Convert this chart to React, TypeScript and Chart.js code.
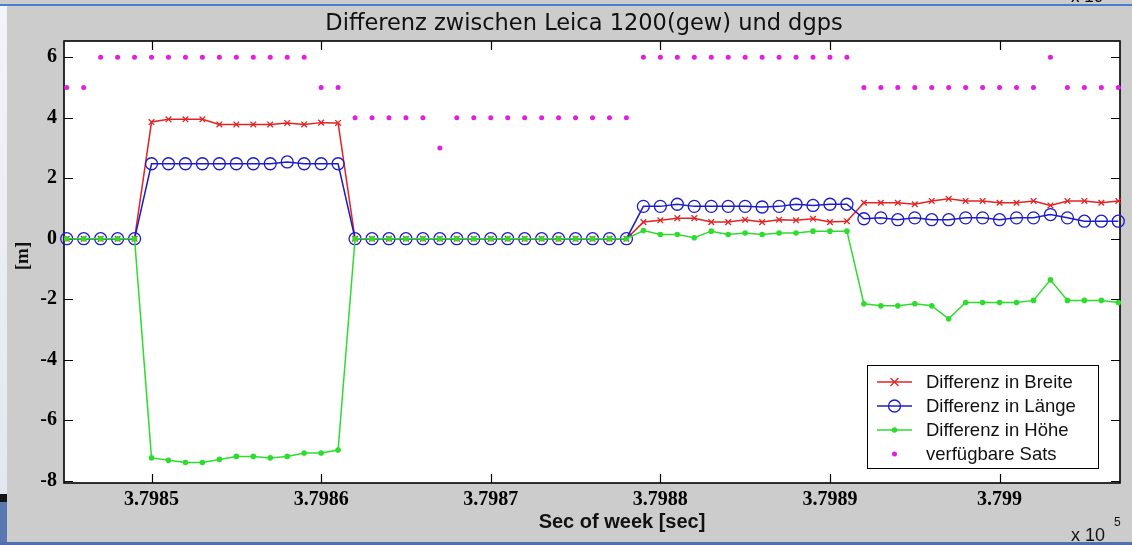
import React, { useEffect, useRef } from 'react';
import { Chart, registerables } from 'chart.js';

Chart.register(...registerables);

const seconds = [
  379845, 379846, 379847, 379848, 379849, 379850, 379851, 379852, 379853, 379854,
  379855, 379856, 379857, 379858, 379859, 379860, 379861, 379862, 379863, 379864,
  379865, 379866, 379867, 379868, 379869, 379870, 379871, 379872, 379873, 379874,
  379875, 379876, 379877, 379878, 379879, 379880, 379881, 379882, 379883, 379884,
  379885, 379886, 379887, 379888, 379889, 379890, 379891, 379892, 379893, 379894,
  379895, 379896, 379897, 379898, 379899, 379900, 379901, 379902, 379903, 379904,
  379905, 379906, 379907,
];

const diffBreite = [
  0, 0, 0, 0, 0,
  3.86, 3.95, 3.95, 3.95, 3.78, 3.78, 3.78, 3.78, 3.83, 3.78, 3.84, 3.83,
  0, 0, 0, 0, 0, 0, 0, 0, 0, 0, 0, 0, 0, 0, 0, 0, 0,
  0.55, 0.61, 0.68, 0.68, 0.55, 0.55, 0.63, 0.55, 0.63, 0.61, 0.66, 0.55, 0.58,
  1.19, 1.19, 1.19, 1.14, 1.25, 1.32, 1.25, 1.25, 1.19, 1.19, 1.25, 1.1, 1.25, 1.25, 1.19, 1.25,
];

const diffLaenge = [
  0, 0, 0, 0, 0,
  2.48, 2.48, 2.48, 2.48, 2.48, 2.48, 2.48, 2.48, 2.54, 2.48, 2.48, 2.48,
  0, 0, 0, 0, 0, 0, 0, 0, 0, 0, 0, 0, 0, 0, 0, 0, 0,
  1.07, 1.07, 1.14, 1.07, 1.07, 1.07, 1.07, 1.05, 1.07, 1.14, 1.1, 1.14, 1.14,
  0.66, 0.69, 0.63, 0.69, 0.63, 0.63, 0.69, 0.69, 0.63, 0.69, 0.69, 0.8, 0.69, 0.58, 0.58, 0.58,
];

const diffHoehe = [
  0, 0, 0, 0, 0,
  -7.25, -7.33, -7.4, -7.4, -7.3, -7.2, -7.2, -7.25, -7.2, -7.09, -7.09, -6.99,
  0, 0, 0, 0, 0, 0, 0, 0, 0, 0, 0, 0, 0, 0, 0, 0, 0,
  0.27, 0.14, 0.14, 0.03, 0.25, 0.14, 0.19, 0.14, 0.19, 0.19, 0.25, 0.25, 0.25,
  -2.15, -2.22, -2.22, -2.15, -2.22, -2.65, -2.11, -2.11, -2.11, -2.11, -2.04, -1.36, -2.04, -2.04, -2.04, -2.11,
];

const verfuegbareSats = [
  5, 5,
  6, 6, 6, 6, 6, 6, 6, 6, 6, 6, 6, 6, 6,
  5, 5,
  4, 4, 4, 4, 4,
  3,
  4, 4, 4, 4, 4, 4, 4, 4, 4, 4, 4,
  6, 6, 6, 6, 6, 6, 6, 6, 6, 6, 6, 6, 6,
  5, 5, 5, 5, 5, 5, 5, 5, 5, 5, 5,
  6,
  5, 5, 5, 5,
];

const xTickValues = [379850, 379860, 379870, 379880, 379890, 379900];
const xTickLabels = ['3.7985', '3.7986', '3.7987', '3.7988', '3.7989', '3.799'];
const yTickValues = [-8, -6, -4, -2, 0, 2, 4, 6];
const yTickLabels = ['-8', '-6', '-4', '-2', '0', '2', '4', '6'];

const seriesLabels = ['Differenz in Breite', 'Differenz in Länge', 'Differenz in Höhe', 'verfügbare Sats'];
const titleText = 'Differenz zwischen Leica 1200(gew) und dgps';
const xAxisTitle = 'Sec of week [sec]';
const yAxisTitle = '[m]';
const exponentBase = 'x 10';
const exponentPower = '5';

const RED = '#e02424';
const BLUE = '#1c1cc8';
const GREEN = '#2edc2e';
const MAGENTA = '#e01fe0';

function drawMarker(ctx: CanvasRenderingContext2D, kind: string, x: number, y: number, color: string) {
  ctx.save();
  ctx.strokeStyle = color;
  ctx.fillStyle = color;
  ctx.lineWidth = 1.3;
  if (kind === 'x') {
    const r = 4;
    ctx.beginPath();
    ctx.moveTo(x - r, y - r); ctx.lineTo(x + r, y + r);
    ctx.moveTo(x - r, y + r); ctx.lineTo(x + r, y - r);
    ctx.stroke();
  } else if (kind === 'o') {
    ctx.beginPath();
    ctx.arc(x, y, 6, 0, Math.PI * 2);
    ctx.stroke();
  } else if (kind === 'dot') {
    ctx.beginPath();
    ctx.arc(x, y, 2.8, 0, Math.PI * 2);
    ctx.fill();
  } else {
    ctx.beginPath();
    ctx.arc(x, y, 2.5, 0, Math.PI * 2);
    ctx.fill();
  }
  ctx.restore();
}

const legendMarkers = ['x', 'o', 'dot', 'sat'];

const matlabPlugin = {
  id: 'matlabFrame',
  beforeDraw(chart: any) {
    const ctx: CanvasRenderingContext2D = chart.ctx;
    const W = chart.width;
    const H = chart.height;
    ctx.save();
    ctx.fillStyle = '#cccccc';
    ctx.fillRect(0, 0, W, H);
    // window remnants
    ctx.fillStyle = '#000';
    ctx.font = '17px "Liberation Sans", Arial, sans-serif';
    ctx.textBaseline = 'alphabetic';
    ctx.textAlign = 'left';
    ctx.fillText(exponentBase, 1071, 2);
    ctx.fillStyle = '#4a7cd0';
    ctx.fillRect(0, 4, W, 2);
    const g = ctx.createLinearGradient(0, 6, 0, 494);
    g.addColorStop(0, '#f1f4f9');
    g.addColorStop(1, '#e3e8f0');
    ctx.fillStyle = g;
    ctx.fillRect(0, 6, 7, 488);
    ctx.fillStyle = '#141414';
    ctx.fillRect(0, 494, 7, 8);
    ctx.fillStyle = '#5a78b0';
    ctx.fillRect(0, 502, 7, H - 502);
    ctx.fillStyle = '#5170aa';
    ctx.fillRect(0, 542, W, 3);
    const a = chart.chartArea;
    ctx.fillStyle = '#ffffff';
    ctx.fillRect(a.left, a.top, a.right - a.left, a.bottom - a.top);
    ctx.restore();
  },
  beforeDatasetsDraw(chart: any) {
    const ctx: CanvasRenderingContext2D = chart.ctx;
    const a = chart.chartArea;
    const xs = chart.scales.x;
    const ys = chart.scales.y;
    ctx.save();
    ctx.strokeStyle = '#000';
    ctx.lineWidth = 1.2;
    const tl = 9;
    ctx.beginPath();
    xTickValues.forEach((v) => {
      const px = Math.round(xs.getPixelForValue(v)) + 0.5;
      ctx.moveTo(px, a.bottom); ctx.lineTo(px, a.bottom - tl);
      ctx.moveTo(px, a.top); ctx.lineTo(px, a.top + tl);
    });
    yTickValues.forEach((v) => {
      const py = Math.round(ys.getPixelForValue(v)) + 0.5;
      ctx.moveTo(a.left, py); ctx.lineTo(a.left + tl, py);
      ctx.moveTo(a.right, py); ctx.lineTo(a.right - tl, py);
    });
    ctx.stroke();
    ctx.lineWidth = 1.6;
    ctx.strokeRect(a.left, a.top, a.right - a.left, a.bottom - a.top);
    ctx.restore();
  },
  afterDraw(chart: any) {
    const ctx: CanvasRenderingContext2D = chart.ctx;
    const a = chart.chartArea;
    ctx.save();
    // title
    ctx.fillStyle = '#111';
    ctx.font = '22.5px "DejaVu Sans", sans-serif';
    ctx.textAlign = 'center';
    ctx.textBaseline = 'alphabetic';
    ctx.fillText(titleText, 584, 29.5);
    // x axis title
    ctx.font = 'bold 20px "Liberation Sans", Arial, sans-serif';
    ctx.textBaseline = 'middle';
    ctx.fillText(xAxisTitle, 622, 522);
    // y axis title
    ctx.save();
    ctx.translate(23, 256);
    ctx.rotate(-Math.PI / 2);
    ctx.font = 'bold 19px "Liberation Serif", serif';
    ctx.fillText(yAxisTitle, 0, 0);
    ctx.restore();
    // exponent
    ctx.textAlign = 'left';
    ctx.font = '18px "Liberation Sans", Arial, sans-serif';
    ctx.fillText(exponentBase, 1071, 536);
    ctx.font = '12px "Liberation Sans", Arial, sans-serif';
    ctx.fillText(exponentPower, 1114, 523);

    // legend
    const lx = 867, ly = 365, lw = 231, lh = 103;
    ctx.fillStyle = '#fff';
    ctx.fillRect(lx, ly, lw, lh);
    ctx.strokeStyle = '#000';
    ctx.lineWidth = 1;
    ctx.strokeRect(lx + 0.5, ly + 0.5, lw, lh);
    chart.data.datasets.forEach((ds: any, k: number) => {
      const y = 382 + k * 24;
      const color = ds.borderColor;
      if (ds.showLine !== false) {
        ctx.strokeStyle = color;
        ctx.lineWidth = 1.5;
        ctx.beginPath();
        ctx.moveTo(877, y); ctx.lineTo(912, y);
        ctx.stroke();
      }
      drawMarker(ctx, legendMarkers[k], 894.5, y, color);
      ctx.fillStyle = '#111';
      ctx.font = '18.5px "Liberation Sans", Arial, sans-serif';
      ctx.textAlign = 'left';
      ctx.textBaseline = 'middle';
      ctx.fillText(ds.label, 926, y + 1);
    });
    ctx.restore();
  },
};

export default function App() {
  const ref = useRef<HTMLCanvasElement | null>(null);

  useEffect(() => {
    if (!ref.current) return;
    const toPoints = (arr: number[]) => seconds.map((t, i) => ({ x: t, y: arr[i] }));
    const tickFont = { family: '"Liberation Serif", "Times New Roman", serif', size: 20, weight: 'bold' as const };
    const chart = new Chart(ref.current, {
      type: 'line',
      data: {
        datasets: [
          {
            label: seriesLabels[0],
            data: toPoints(diffBreite),
            borderColor: RED,
            backgroundColor: RED,
            borderWidth: 1.5,
            pointStyle: 'crossRot',
            pointRadius: 4,
            pointBorderWidth: 1.3,
            pointBorderColor: RED,
            tension: 0,
            order: 3,
            clip: false as any,
          },
          {
            label: seriesLabels[1],
            data: toPoints(diffLaenge),
            borderColor: BLUE,
            backgroundColor: 'rgba(0,0,0,0)',
            borderWidth: 1.5,
            pointStyle: 'circle',
            pointRadius: 6,
            pointBorderWidth: 1.3,
            pointBorderColor: BLUE,
            pointBackgroundColor: 'rgba(0,0,0,0)',
            tension: 0,
            order: 2,
            clip: false as any,
          },
          {
            label: seriesLabels[2],
            data: toPoints(diffHoehe),
            borderColor: GREEN,
            backgroundColor: GREEN,
            borderWidth: 1.5,
            pointStyle: 'circle',
            pointRadius: 2.8,
            pointBorderWidth: 0,
            pointBackgroundColor: GREEN,
            tension: 0,
            order: 1,
            clip: false as any,
          },
          {
            label: seriesLabels[3],
            data: toPoints(verfuegbareSats),
            borderColor: MAGENTA,
            backgroundColor: MAGENTA,
            showLine: false,
            pointStyle: 'circle',
            pointRadius: 2.5,
            pointBorderWidth: 0,
            pointBackgroundColor: MAGENTA,
            order: 0,
            clip: false as any,
          },
        ],
      },
      options: {
        responsive: false,
        animation: false,
        devicePixelRatio: 1,
        events: [],
        layout: { padding: { top: 41, right: 12, left: 0, bottom: 0 } },
        plugins: {
          legend: { display: false },
          tooltip: { enabled: false },
          title: { display: false },
        },
        scales: {
          x: {
            type: 'linear',
            position: 'bottom',
            min: 379844.84,
            max: 379907.1,
            grid: { display: false, drawTicks: false },
            border: { display: false },
            afterBuildTicks: (s: any) => {
              s.ticks = xTickValues.map((v) => ({ value: v }));
            },
            afterFit: (s: any) => {
              s.height = 62;
            },
            ticks: {
              autoSkip: false,
              maxRotation: 0,
              minRotation: 0,
              padding: 5,
              color: '#000',
              font: tickFont,
              callback: (v: any) => {
                const i = xTickValues.indexOf(Number(v));
                return i >= 0 ? xTickLabels[i] : '';
              },
            },
          },
          y: {
            type: 'linear',
            position: 'left',
            min: -8.08,
            max: 6.54,
            grid: { display: false, drawTicks: false },
            border: { display: false },
            afterBuildTicks: (s: any) => {
              s.ticks = yTickValues.map((v) => ({ value: v }));
            },
            afterFit: (s: any) => {
              s.width = 64;
            },
            ticks: {
              autoSkip: false,
              padding: 7,
              color: '#000',
              font: tickFont,
              callback: (v: any) => {
                const i = yTickValues.indexOf(Number(v));
                return i >= 0 ? yTickLabels[i] : '';
              },
            },
          },
        },
      },
      plugins: [matlabPlugin],
    });
    return () => chart.destroy();
  }, []);

  return (
    <div style={{ position: 'fixed', left: 0, top: 0, width: 1132, height: 545 }}>
      <canvas ref={ref} width={1132} height={545} style={{ display: 'block', width: 1132, height: 545 }} />
    </div>
  );
}
